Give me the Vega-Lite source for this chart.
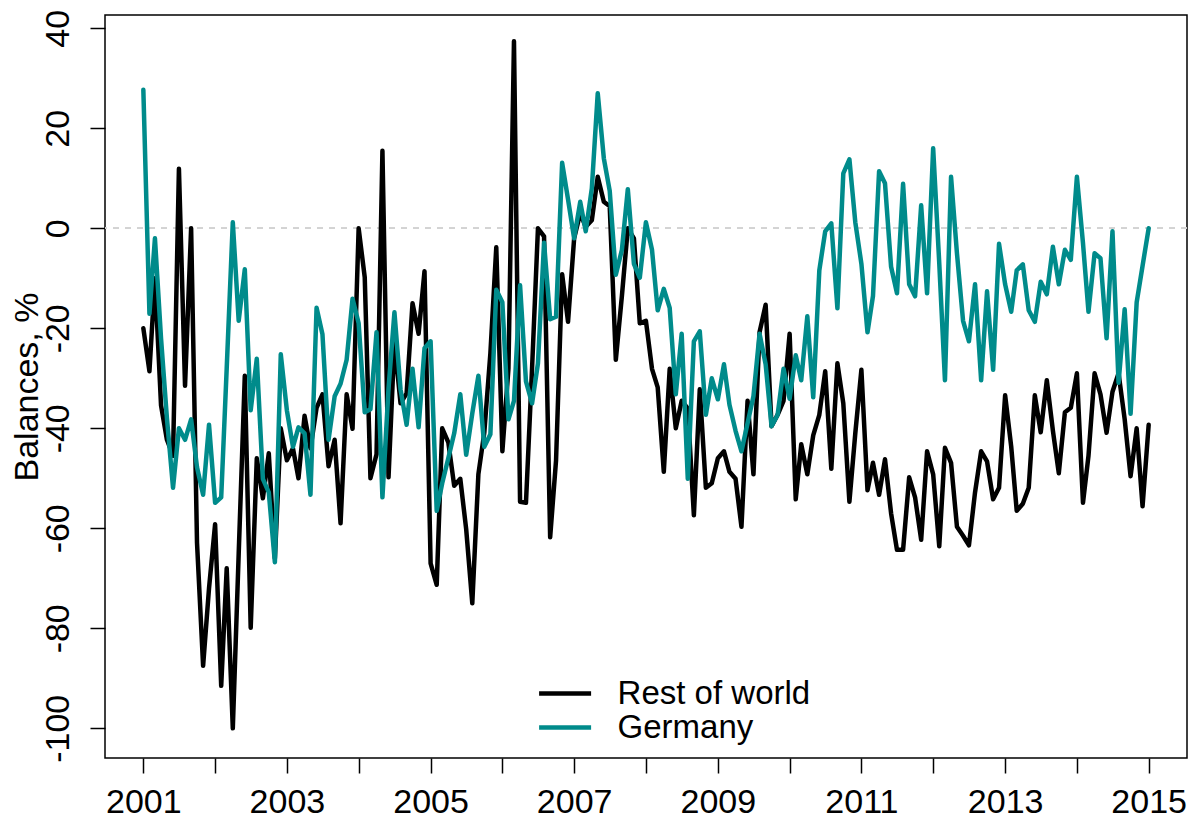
{
  "$schema": "https://vega.github.io/schema/vega-lite/v6.json",
  "width": 1082,
  "height": 743,
  "autosize": {"type": "none"},
  "padding": {"left": 105, "top": 15, "right": 10, "bottom": 65},
  "background": "white",
  "config": {
    "view": {"stroke": "black", "strokeWidth": 1.5},
    "font": "Liberation Sans"
  },
  "data": {
    "format": {"parse": {"d": "utc:'%Y-%m'"}},
    "values": [
      {"d":"2001-01","Rest of world":-20,"Germany":27.7},
      {"d":"2001-02","Rest of world":-28.6,"Germany":-17.1},
      {"d":"2001-03","Rest of world":-10,"Germany":-2},
      {"d":"2001-04","Rest of world":-35.4,"Germany":-22},
      {"d":"2001-05","Rest of world":-42.3,"Germany":-38},
      {"d":"2001-06","Rest of world":-45.5,"Germany":-51.9},
      {"d":"2001-07","Rest of world":11.9,"Germany":-40},
      {"d":"2001-08","Rest of world":-31.5,"Germany":-42.3},
      {"d":"2001-09","Rest of world":0,"Germany":-38.2},
      {"d":"2001-10","Rest of world":-62.9,"Germany":-47.8},
      {"d":"2001-11","Rest of world":-87.5,"Germany":-53.3},
      {"d":"2001-12","Rest of world":-72,"Germany":-39.3},
      {"d":"2002-01","Rest of world":-59.2,"Germany":-54.9},
      {"d":"2002-02","Rest of world":-91.5,"Germany":-53.8},
      {"d":"2002-03","Rest of world":-68,"Germany":-28},
      {"d":"2002-04","Rest of world":-100,"Germany":1.2},
      {"d":"2002-05","Rest of world":-65,"Germany":-18.5},
      {"d":"2002-06","Rest of world":-29.5,"Germany":-8.2},
      {"d":"2002-07","Rest of world":-79.9,"Germany":-36.4},
      {"d":"2002-08","Rest of world":-46,"Germany":-26.1},
      {"d":"2002-09","Rest of world":-54,"Germany":-50.1},
      {"d":"2002-10","Rest of world":-45,"Germany":-52.8},
      {"d":"2002-11","Rest of world":-66,"Germany":-66.8},
      {"d":"2002-12","Rest of world":-40,"Germany":-25.2},
      {"d":"2003-01","Rest of world":-46.4,"Germany":-36.4},
      {"d":"2003-02","Rest of world":-44,"Germany":-43.7},
      {"d":"2003-03","Rest of world":-50,"Germany":-39.8},
      {"d":"2003-04","Rest of world":-37.5,"Germany":-41},
      {"d":"2003-05","Rest of world":-44,"Germany":-53.3},
      {"d":"2003-06","Rest of world":-35.9,"Germany":-15.9},
      {"d":"2003-07","Rest of world":-33.2,"Germany":-21.2},
      {"d":"2003-08","Rest of world":-47.6,"Germany":-42.3},
      {"d":"2003-09","Rest of world":-42.3,"Germany":-33.6},
      {"d":"2003-10","Rest of world":-59,"Germany":-31.1},
      {"d":"2003-11","Rest of world":-33.2,"Germany":-26.3},
      {"d":"2003-12","Rest of world":-40.1,"Germany":-14.1},
      {"d":"2004-01","Rest of world":0,"Germany":-19},
      {"d":"2004-02","Rest of world":-9.8,"Germany":-36.8},
      {"d":"2004-03","Rest of world":-50,"Germany":-36.2},
      {"d":"2004-04","Rest of world":-45.2,"Germany":-20.8},
      {"d":"2004-05","Rest of world":15.5,"Germany":-53.8},
      {"d":"2004-06","Rest of world":-49.8,"Germany":-32},
      {"d":"2004-07","Rest of world":-22.6,"Germany":-16.8},
      {"d":"2004-08","Rest of world":-35,"Germany":-32.2},
      {"d":"2004-09","Rest of world":-33,"Germany":-39.3},
      {"d":"2004-10","Rest of world":-15,"Germany":-28.1},
      {"d":"2004-11","Rest of world":-21.1,"Germany":-39.8},
      {"d":"2004-12","Rest of world":-8.6,"Germany":-24},
      {"d":"2005-01","Rest of world":-67,"Germany":-22.6},
      {"d":"2005-02","Rest of world":-71.3,"Germany":-56.5},
      {"d":"2005-03","Rest of world":-40,"Germany":-51},
      {"d":"2005-04","Rest of world":-42.8,"Germany":-46},
      {"d":"2005-05","Rest of world":-51.5,"Germany":-41},
      {"d":"2005-06","Rest of world":-50.1,"Germany":-33.2},
      {"d":"2005-07","Rest of world":-60.2,"Germany":-45.3},
      {"d":"2005-08","Rest of world":-75,"Germany":-37},
      {"d":"2005-09","Rest of world":-49.2,"Germany":-29.5},
      {"d":"2005-10","Rest of world":-40.9,"Germany":-43.7},
      {"d":"2005-11","Rest of world":-25,"Germany":-41.2},
      {"d":"2005-12","Rest of world":-3.8,"Germany":-12.3},
      {"d":"2006-01","Rest of world":-44.6,"Germany":-14.8},
      {"d":"2006-02","Rest of world":-28,"Germany":-38.2},
      {"d":"2006-03","Rest of world":37.4,"Germany":-34.5},
      {"d":"2006-04","Rest of world":-54.7,"Germany":-11.4},
      {"d":"2006-05","Rest of world":-54.9,"Germany":-30.6},
      {"d":"2006-06","Rest of world":-28,"Germany":-35},
      {"d":"2006-07","Rest of world":0,"Germany":-27},
      {"d":"2006-08","Rest of world":-1.6,"Germany":-2.9},
      {"d":"2006-09","Rest of world":-61.8,"Germany":-18.2},
      {"d":"2006-10","Rest of world":-46.4,"Germany":-17.7},
      {"d":"2006-11","Rest of world":-9.2,"Germany":13.1},
      {"d":"2006-12","Rest of world":-18.7,"Germany":5.8},
      {"d":"2007-01","Rest of world":-2,"Germany":-2},
      {"d":"2007-02","Rest of world":3,"Germany":5.3},
      {"d":"2007-03","Rest of world":0.3,"Germany":-0.6},
      {"d":"2007-04","Rest of world":1.6,"Germany":8},
      {"d":"2007-05","Rest of world":10.3,"Germany":27},
      {"d":"2007-06","Rest of world":5.3,"Germany":14},
      {"d":"2007-07","Rest of world":4.4,"Germany":7.5},
      {"d":"2007-08","Rest of world":-26.3,"Germany":-9.3},
      {"d":"2007-09","Rest of world":-13.5,"Germany":-4.3},
      {"d":"2007-10","Rest of world":0,"Germany":7.8},
      {"d":"2007-11","Rest of world":-2,"Germany":-7.1},
      {"d":"2007-12","Rest of world":-19,"Germany":-9.9},
      {"d":"2008-01","Rest of world":-18.5,"Germany":1.2},
      {"d":"2008-02","Rest of world":-28.1,"Germany":-4.3},
      {"d":"2008-03","Rest of world":-31.8,"Germany":-16.4},
      {"d":"2008-04","Rest of world":-48.7,"Germany":-12.1},
      {"d":"2008-05","Rest of world":-28.1,"Germany":-15.9},
      {"d":"2008-06","Rest of world":-40,"Germany":-33.2},
      {"d":"2008-07","Rest of world":-34.5,"Germany":-21.1},
      {"d":"2008-08","Rest of world":-36,"Germany":-50.1},
      {"d":"2008-09","Rest of world":-57.4,"Germany":-22.6},
      {"d":"2008-10","Rest of world":-32.2,"Germany":-20.6},
      {"d":"2008-11","Rest of world":-51.9,"Germany":-37.3},
      {"d":"2008-12","Rest of world":-51,"Germany":-30},
      {"d":"2009-01","Rest of world":-46,"Germany":-34.2},
      {"d":"2009-02","Rest of world":-44.6,"Germany":-27.2},
      {"d":"2009-03","Rest of world":-48.7,"Germany":-35.3},
      {"d":"2009-04","Rest of world":-50.1,"Germany":-40.5},
      {"d":"2009-05","Rest of world":-59.7,"Germany":-44.6},
      {"d":"2009-06","Rest of world":-34.5,"Germany":-39},
      {"d":"2009-07","Rest of world":-49.2,"Germany":-33.6},
      {"d":"2009-08","Rest of world":-20.8,"Germany":-21.1},
      {"d":"2009-09","Rest of world":-15.3,"Germany":-27.2},
      {"d":"2009-10","Rest of world":-39.6,"Germany":-39.6},
      {"d":"2009-11","Rest of world":-37.3,"Germany":-37.3},
      {"d":"2009-12","Rest of world":-34.5,"Germany":-28.1},
      {"d":"2010-01","Rest of world":-21.1,"Germany":-34.1},
      {"d":"2010-02","Rest of world":-54.2,"Germany":-25.4},
      {"d":"2010-03","Rest of world":-43.2,"Germany":-30.4},
      {"d":"2010-04","Rest of world":-49.2,"Germany":-17.6},
      {"d":"2010-05","Rest of world":-41.4,"Germany":-33.8},
      {"d":"2010-06","Rest of world":-37.3,"Germany":-8.4},
      {"d":"2010-07","Rest of world":-28.6,"Germany":-0.6},
      {"d":"2010-08","Rest of world":-48.1,"Germany":1},
      {"d":"2010-09","Rest of world":-27,"Germany":-16},
      {"d":"2010-10","Rest of world":-35,"Germany":11},
      {"d":"2010-11","Rest of world":-54.7,"Germany":13.8},
      {"d":"2010-12","Rest of world":-41,"Germany":1.2},
      {"d":"2011-01","Rest of world":-28.3,"Germany":-7.1},
      {"d":"2011-02","Rest of world":-52.4,"Germany":-20.8},
      {"d":"2011-03","Rest of world":-46.9,"Germany":-13.5},
      {"d":"2011-04","Rest of world":-53.3,"Germany":11.4},
      {"d":"2011-05","Rest of world":-46.2,"Germany":9},
      {"d":"2011-06","Rest of world":-57,"Germany":-7.7},
      {"d":"2011-07","Rest of world":-64.3,"Germany":-13},
      {"d":"2011-08","Rest of world":-64.3,"Germany":8.9},
      {"d":"2011-09","Rest of world":-49.8,"Germany":-11.2},
      {"d":"2011-10","Rest of world":-53.8,"Germany":-13.6},
      {"d":"2011-11","Rest of world":-62.3,"Germany":4.6},
      {"d":"2011-12","Rest of world":-44.6,"Germany":-13},
      {"d":"2012-01","Rest of world":-49.2,"Germany":16},
      {"d":"2012-02","Rest of world":-63.6,"Germany":-7},
      {"d":"2012-03","Rest of world":-43.9,"Germany":-30.4},
      {"d":"2012-04","Rest of world":-46.9,"Germany":10.3},
      {"d":"2012-05","Rest of world":-59.7,"Germany":-5},
      {"d":"2012-06","Rest of world":-61.5,"Germany":-18.5},
      {"d":"2012-07","Rest of world":-63.4,"Germany":-22.6},
      {"d":"2012-08","Rest of world":-52.8,"Germany":-11.2},
      {"d":"2012-09","Rest of world":-44.6,"Germany":-30.4},
      {"d":"2012-10","Rest of world":-46.6,"Germany":-12.6},
      {"d":"2012-11","Rest of world":-54.2,"Germany":-28.3},
      {"d":"2012-12","Rest of world":-51.9,"Germany":-3.1},
      {"d":"2013-01","Rest of world":-33.4,"Germany":-11.2},
      {"d":"2013-02","Rest of world":-43.7,"Germany":-16.7},
      {"d":"2013-03","Rest of world":-56.5,"Germany":-8.4},
      {"d":"2013-04","Rest of world":-55.1,"Germany":-7.2},
      {"d":"2013-05","Rest of world":-51.9,"Germany":-16.4},
      {"d":"2013-06","Rest of world":-33.4,"Germany":-18.7},
      {"d":"2013-07","Rest of world":-40.8,"Germany":-10.7},
      {"d":"2013-08","Rest of world":-30.4,"Germany":-13.2},
      {"d":"2013-09","Rest of world":-40.5,"Germany":-3.7},
      {"d":"2013-10","Rest of world":-49,"Germany":-11.2},
      {"d":"2013-11","Rest of world":-36.8,"Germany":-4.3},
      {"d":"2013-12","Rest of world":-35.9,"Germany":-6.3},
      {"d":"2014-01","Rest of world":-29,"Germany":10.3},
      {"d":"2014-02","Rest of world":-54.9,"Germany":-3},
      {"d":"2014-03","Rest of world":-45.5,"Germany":-16.7},
      {"d":"2014-04","Rest of world":-29,"Germany":-5},
      {"d":"2014-05","Rest of world":-33.2,"Germany":-6},
      {"d":"2014-06","Rest of world":-40.9,"Germany":-22},
      {"d":"2014-07","Rest of world":-32.7,"Germany":-0.6},
      {"d":"2014-08","Rest of world":-29,"Germany":-30.9},
      {"d":"2014-09","Rest of world":-38.2,"Germany":-16.2},
      {"d":"2014-10","Rest of world":-49.6,"Germany":-37.1},
      {"d":"2014-11","Rest of world":-40,"Germany":-14.8},
      {"d":"2014-12","Rest of world":-55.6,"Germany":-7.5},
      {"d":"2015-01","Rest of world":-39.3,"Germany":0}
    ]
  },
  "layer": [
    {
      "mark": {"type": "rule", "color": "#d3d3d3", "strokeWidth": 1.5, "strokeDash": [6, 6]},
      "encoding": {"y": {"datum": 0, "type": "quantitative"}}
    },
    {
      "transform": [{"fold": ["Rest of world", "Germany"], "as": ["series", "value"]}],
      "mark": {"type": "line", "strokeWidth": 4.5, "strokeJoin": "round", "strokeCap": "round"},
      "encoding": {
        "x": {
          "field": "d",
          "type": "temporal",
          "scale": {
            "type": "utc",
            "domain": [
              {"year": 2000, "month": "jun", "date": 20, "utc": true},
              {"year": 2015, "month": "jul", "date": 15, "utc": true}
            ]
          },
          "axis": {
            "title": null,
            "grid": false,
            "domain": false,
            "tickCount": {"interval": "year", "step": 1},
            "labelExpr": "utcyear(datum.value) % 2 == 1 ? utcFormat(datum.value, '%Y') : ''",
            "tickSize": 15,
            "tickColor": "black",
            "tickWidth": 1.5,
            "labelFont": "Liberation Sans",
            "labelFontSize": 34,
            "labelColor": "black",
            "labelPadding": 12,
            "labelFlush": false,
            "labelOverlap": false,
            "labelBound": false
          }
        },
        "y": {
          "field": "value",
          "type": "quantitative",
          "scale": {"domain": [-105.94, 42.66], "nice": false, "zero": false},
          "axis": {
            "title": "Balances, %",
            "titleFont": "Liberation Sans",
            "titleFontSize": 34,
            "titleFontWeight": "normal",
            "titleColor": "black",
            "titleAngle": -90,
            "titleAlign": "center",
            "titleBaseline": "alphabetic",
            "titleX": -68,
            "titleY": 371.5,
            "grid": false,
            "domain": false,
            "values": [40, 20, 0, -20, -40, -60, -80, -100],
            "labelExpr": "toString(datum.value)",
            "tickSize": 15,
            "tickColor": "black",
            "tickWidth": 1.5,
            "labelAngle": -90,
            "labelAlign": "center",
            "labelBaseline": "alphabetic",
            "labelPadding": 22,
            "labelFont": "Liberation Sans",
            "labelFontSize": 34,
            "labelColor": "black",
            "labelFlush": false,
            "labelOverlap": false,
            "labelBound": false
          }
        },
        "color": {
          "field": "series",
          "type": "nominal",
          "scale": {"domain": ["Rest of world", "Germany"], "range": ["#000000", "#008B8B"]},
          "legend": {
            "title": null,
            "orient": "none",
            "legendX": 443.6,
            "legendY": 662,
            "symbolType": "M-2.5,0H2.5",
            "symbolSize": 432.6,
            "symbolStrokeWidth": 4.5,
            "labelFont": "Liberation Sans",
            "labelFontSize": 33,
            "labelColor": "black",
            "labelOffset": 36,
            "labelLimit": 0,
            "rowPadding": -3,
            "padding": 0
          }
        }
      }
    }
  ]
}
